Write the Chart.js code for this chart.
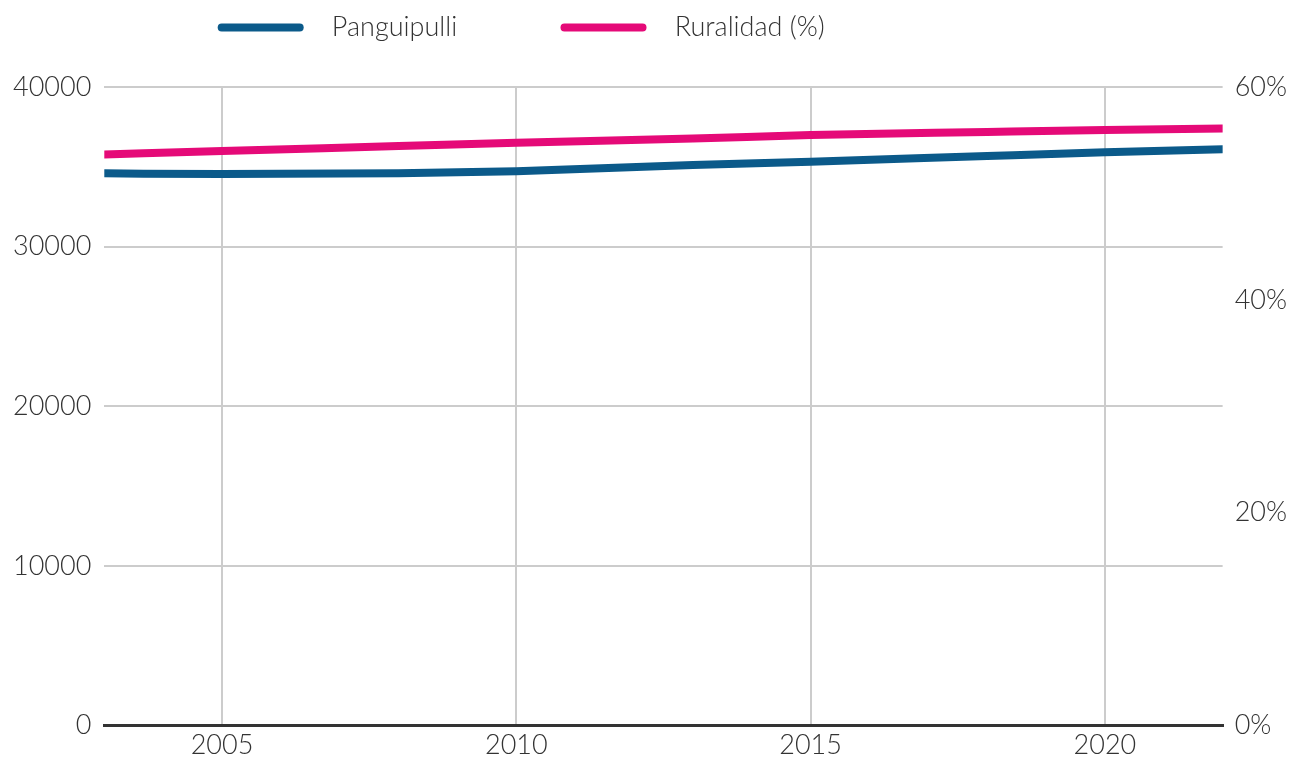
<!DOCTYPE html>
<html>
<head>
<meta charset="utf-8">
<script src="https://cdn.jsdelivr.net/npm/chart.js@4"></script>
<style>
  html, body { margin: 0; padding: 0; background: #fff; }
  #wrap { width: 1299px; height: 767px; }
</style>
</head>
<body>
<div id="wrap"><canvas id="myChart"></canvas></div>
<script>
// valores
var anios = [2003, 2005, 2008, 2010, 2013, 2015, 2018, 2020, 2022];
var panguipulli = [34590, 34545, 34600, 34730, 35120, 35320, 35680, 35910, 36100];
var ruralidad = [53.65, 53.99, 54.45, 54.77, 55.15, 55.49, 55.78, 55.96, 56.09];
var ticksIzq = [0, 10000, 20000, 30000, 40000];
var ticksDer = [0, 20, 40, 60];
var ticksX = [2005, 2010, 2015, 2020];

var fuente = { family: 'Lato', size: 27, weight: 300 };

// espacio extra bajo la leyenda
const espacioLeyenda = {
    id: 'espacioLeyenda',
    beforeInit(chart) {
        const fitOriginal = chart.legend.fit;
        chart.legend.fit = function() {
            fitOriginal.bind(this)();
            this.height += 36;
        };
    }
};

const ctx = document.getElementById('myChart');

new Chart(ctx, {
    type: 'line',
    data: {
        datasets: [{
            label: 'Panguipulli',
            data: anios.map((a, i) => ({ x: a, y: panguipulli[i] })),
            borderColor: '#0b5a8a',
            backgroundColor: '#0b5a8a',
            borderWidth: 8,
            borderCapStyle: 'round',
            pointRadius: 0,
            cubicInterpolationMode: 'monotone',
            yAxisID: 'y'
        }, {
            label: 'Ruralidad (%)',
            data: anios.map((a, i) => ({ x: a, y: ruralidad[i] })),
            borderColor: '#e50a78',
            backgroundColor: '#e50a78',
            borderWidth: 8,
            borderCapStyle: 'round',
            pointRadius: 0,
            cubicInterpolationMode: 'monotone',
            yAxisID: 'y1'
        }]
    },
    plugins: [espacioLeyenda],
    options: {
        responsive: true,
        maintainAspectRatio: false,
        animation: false,
        layout: { padding: { left: 0, right: 0, top: 6, bottom: 3 } },
        plugins: {
            tooltip: { enabled: false },
            legend: {
                position: 'top',
                labels: {
                    font: fuente,
                    color: '#333',
                    boxWidth: 86,
                    boxHeight: 8,
                    useBorderRadius: true,
                    borderRadius: 4,
                    padding: 8,
                    generateLabels: function(chart) {
                        var colas = ['             ', '                                   '];
                        return chart.data.datasets.map((ds, i) => ({
                            text: '  ' + ds.label + colas[i],
                            fillStyle: ds.borderColor,
                            strokeStyle: ds.borderColor,
                            lineWidth: 0,
                            fontColor: '#333',
                            datasetIndex: i,
                            borderRadius: 4
                        }));
                    }
                }
            }
        },
        scales: {
            x: {
                type: 'linear',
                min: 2003,
                max: 2022,
                afterBuildTicks: function(axis) {
                    axis.ticks = ticksX.map(v => ({ value: v }));
                },
                ticks: {
                    font: fuente,
                    color: '#333',
                    padding: 3,
                    callback: v => String(v)
                },
                grid: { color: '#cccccc', lineWidth: 2, drawTicks: false },
                border: { color: '#333', width: 3 }
            },
            y: {
                position: 'left',
                min: 0,
                max: 40000,
                afterBuildTicks: function(axis) {
                    axis.ticks = ticksIzq.map(v => ({ value: v }));
                },
                ticks: { font: fuente, color: '#333', padding: 13, callback: v => String(v) },
                grid: { color: '#cccccc', lineWidth: 2, drawTicks: false },
                border: { display: false }
            },
            y1: {
                position: 'right',
                min: 0,
                max: 60,
                afterBuildTicks: function(axis) {
                    axis.ticks = ticksDer.map(v => ({ value: v }));
                },
                ticks: { font: fuente, color: '#333', padding: 12, callback: v => v + '%' },
                grid: { display: false, drawTicks: false },
                border: { display: false }
            }
        }
    }
});
</script>
</body>
</html>
